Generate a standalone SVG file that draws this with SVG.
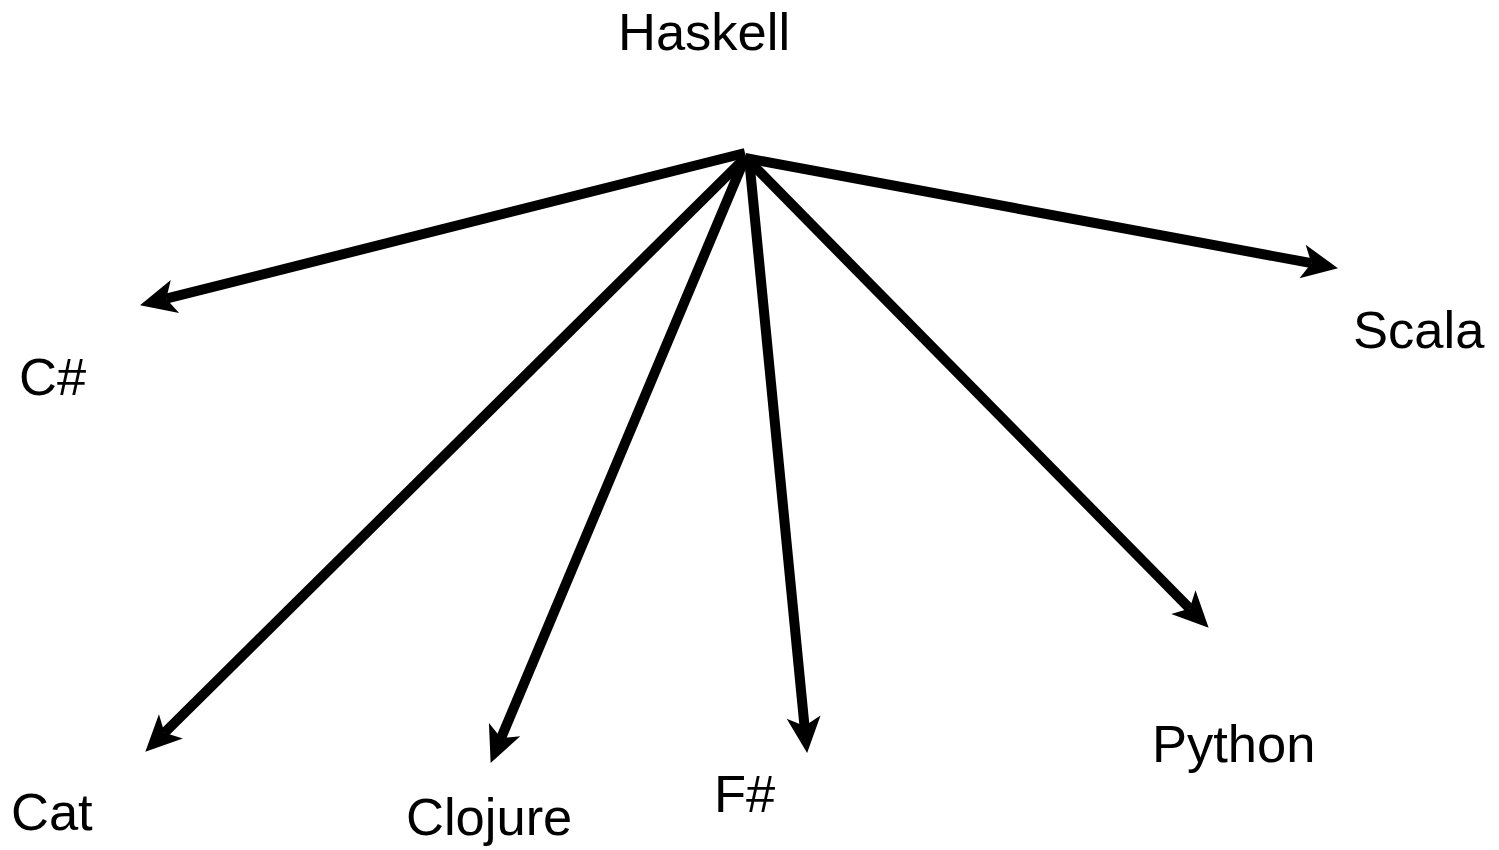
<svg xmlns="http://www.w3.org/2000/svg" width="1499" height="850" viewBox="0 0 1499 850">
  <style>
    .label { font-family: "Liberation Sans", Arial, sans-serif; font-size: 52.5px; fill: #000; }
    .edge { stroke: #000; stroke-width: 10; fill: none; }
  </style>
  <defs>
    <marker id="arrow" markerUnits="userSpaceOnUse" markerWidth="42" markerHeight="40" viewBox="-38 -20 42 40" refX="-27" refY="0" orient="auto">
      <path d="M0,0 L-36,-17 L-27,0 L-36,17 Z" fill="#000"/>
    </marker>
  </defs>
  <rect width="1499" height="850" fill="#fff"/>
  <g id="connectors">
    <line class="edge" x1="745" y1="153" x2="166.2" y2="298.7" marker-end="url(#arrow)"/>
    <line class="edge" x1="745" y1="158" x2="1311.4" y2="263.2" marker-end="url(#arrow)"/>
    <line class="edge" x1="745" y1="158" x2="164.5" y2="732.7" marker-end="url(#arrow)"/>
    <line class="edge" x1="745" y1="158" x2="501.1" y2="738" marker-end="url(#arrow)"/>
    <line class="edge" x1="749" y1="158" x2="804.5" y2="726.1" marker-end="url(#arrow)"/>
    <line class="edge" x1="748" y1="160" x2="1189.7" y2="608.5" marker-end="url(#arrow)"/>
  </g>
  <g id="haskell"><text class="label" x="618" y="50">Haskell</text></g>
  <g id="csharp"><text class="label" x="19" y="395">C#</text></g>
  <g id="scala"><text class="label" x="1353" y="348">Scala</text></g>
  <g id="cat"><text class="label" x="11" y="830">Cat</text></g>
  <g id="clojure"><text class="label" x="406" y="835">Clojure</text></g>
  <g id="fsharp"><text class="label" x="714" y="812">F#</text></g>
  <g id="python"><text class="label" x="1152" y="762">Python</text></g>
</svg>
